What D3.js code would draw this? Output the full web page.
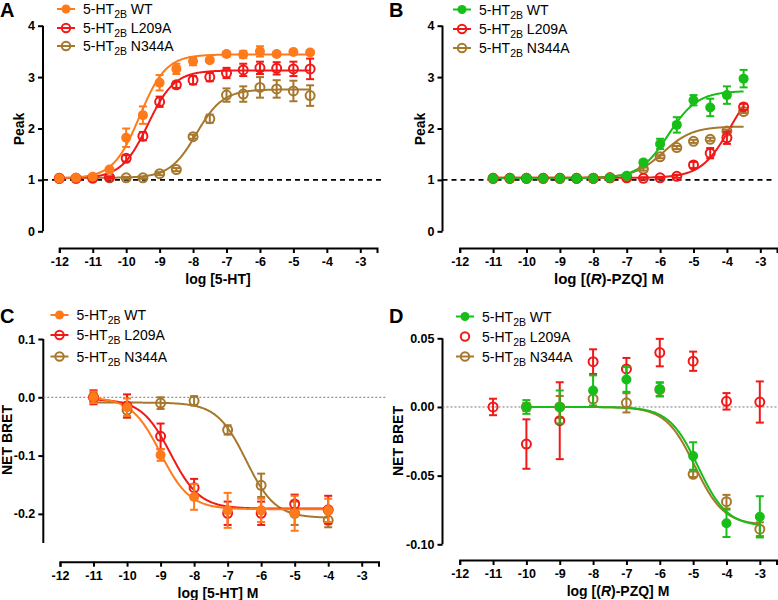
<!DOCTYPE html>
<html><head><meta charset="utf-8">
<script src="https://cdn.jsdelivr.net/npm/d3@7"></script>
<style>body{margin:0;background:#fff}svg{display:block}text{font-family:"Liberation Sans",Arial,sans-serif}</style>
</head><body><svg id="c" width="778" height="600"></svg>
<script>
// ---------- data ----------
const seriesNames = ["WT", "L209A", "N344A"];
const xTicks = [-12,-11,-10,-9,-8,-7,-6,-5,-4,-3];

// Panel A: Peak vs log[5-HT]
const xA = [-12,-11.5,-11,-10.5,-10,-9.5,-9,-8.5,-8,-7.5,-7,-6.5,-6,-5.5,-5,-4.5];
const aWT    = [1.03,1.04,1.06,1.2,1.82,2.26,2.89,3.16,3.31,3.33,3.45,3.44,3.5,3.45,3.49,3.48];
const aWTe   = [0.02,0.02,0.02,0.03,0.18,0.17,0.15,0.1,0.08,0.04,0.04,0.07,0.1,0.04,0.04,0.04];
const aL209  = [1.03,1.03,1.04,1.05,1.42,1.85,2.52,2.85,2.94,3.0,3.08,3.14,3.18,3.17,3.16,3.16];
const aL209e = [0.02,0.02,0.02,0.02,0.06,0.08,0.1,0.06,0.08,0.08,0.1,0.12,0.12,0.12,0.14,0.2];
const aN344  = [1.03,1.03,1.03,1.04,1.04,1.04,1.12,1.2,1.84,2.19,2.65,2.67,2.8,2.77,2.73,2.64];
const aN344e = [0.02,0.02,0.02,0.02,0.02,0.02,0.03,0.03,0.04,0.08,0.13,0.15,0.2,0.17,0.2,0.2];
// fit parameters [bottom, top, logEC50, hill]
const fitA = [[1.03,3.44,-9.6,1.1],[1.03,3.13,-9.35,1.1],[1.04,2.76,-7.9,1.1]];
const yTicksA = [0,1,2,3,4];

// Panel B: Peak vs log[(R)-PZQ]
const xB = [-11,-10.5,-10,-9.5,-9,-8.5,-8,-7.5,-7,-6.5,-6,-5.5,-5,-4.5,-4,-3.5];
const bWT    = [1.03,1.03,1.03,1.03,1.03,1.03,1.03,1.04,1.08,1.34,1.7,2.07,2.55,2.41,2.65,2.97];
const bWTe   = [0.02,0.02,0.02,0.02,0.02,0.02,0.02,0.02,0.03,0.05,0.1,0.15,0.1,0.17,0.17,0.17];
const bL209  = [1.03,1.03,1.03,1.03,1.03,1.03,1.03,1.04,1.04,1.03,1.04,1.07,1.29,1.52,1.82,2.42];
const bL209e = [0.02,0.02,0.02,0.02,0.02,0.02,0.02,0.02,0.02,0.02,0.02,0.03,0.06,0.1,0.12,0.06];
const bN344  = [1.03,1.03,1.03,1.03,1.03,1.03,1.03,1.04,1.06,1.21,1.45,1.63,1.75,1.79,1.95,2.33];
const bN344e = [0.02,0.02,0.02,0.02,0.02,0.02,0.02,0.02,0.02,0.03,0.03,0.03,0.03,0.03,0.03,0.03];
const fitB = [[1.03,2.73,-5.75,1.0],[1.04,3.0,-3.9,1.0],[1.04,2.04,-5.9,1.0]];

// Panel C: NET BRET vs log[5-HT]
const xC = [-11,-10,-9,-8,-7,-6,-5,-4];
const cWT    = [0.0,-0.017,-0.099,-0.171,-0.194,-0.194,-0.199,-0.194];
const cWTe   = [0.01,0.015,0.01,0.022,0.03,0.02,0.03,0.02];
const cL209  = [0.0,-0.015,-0.067,-0.155,-0.199,-0.199,-0.183,-0.193];
const cL209e = [0.012,0.02,0.022,0.015,0.02,0.02,0.016,0.024];
const cN344  = [0.0,-0.022,-0.01,-0.006,-0.056,-0.151,-0.199,-0.211];
const cN344e = [0.008,0.012,0.01,0.008,0.008,0.02,0.02,0.012];
// fit parameters [top, bottom, logIC50, hill]
const fitC = [[0.0,-0.192,-9.0,1.0],[-0.003,-0.191,-8.7,1.0],[-0.009,-0.207,-6.45,1.0]];
const yTicksC = [0.1,0.0,-0.1,-0.2];

// Panel D: NET BRET vs log[(R)-PZQ]
const xD = [-11,-10,-9,-8,-7,-6,-5,-4,-3];
const dWT    = [null,0.0,0.0,0.012,0.02,0.013,-0.0357,-0.0847,-0.08];
const dWTe   = [0,0.005,0.012,0.011,0.009,0.005,0.01,0.01,0.015];
const dL209  = [0.0,-0.027,-0.01,0.033,0.0277,0.0396,0.0333,0.0041,0.0036];
const dL209e = [0.006,0.018,0.028,0.009,0.008,0.01,0.007,0.006,0.015];
const dN344  = [null,0.0,0.0,0.0058,0.003,0.0126,-0.049,-0.069,-0.089];
const dN344e = [0,0.003,0.008,0.005,0.007,0.005,0.002,0.005,0.005];
const fitD = [[0.0,-0.087,-4.85,1.0],null,[0.0,-0.086,-4.95,1.0]];
const yTicksD = [0.05,0.0,-0.05,-0.10];

const colorsAC = ["#FF7A1A","#F21818","#A6782E"];
const colorsBD = ["#18BE18","#F21818","#A6782E"];

// ---------- drawing ----------
const svg = d3.select("#c");
const FONT = '"Liberation Sans",Arial,sans-serif';

function panel(o){
  const g = svg.append("g");
  const x = d3.scaleLinear().domain([-12,-2.5]).range(o.xr);
  const y = d3.scaleLinear().domain(o.yd).range(o.yr);
  // y axis
  const yAx = g.append("g").attr("transform",`translate(${o.yAxisX},0)`)
    .call(d3.axisLeft(y).tickValues(o.yTicks).tickFormat(o.yFmt).tickSize(5).tickPadding(3));
  yAx.select(".domain").attr("d",`M0,${y(o.yd[0])}V${y(o.yd[1])}`);
  // x axis
  const xAx = g.append("g").attr("transform",`translate(0,${o.xAxisY})`)
    .call(d3.axisBottom(x).tickValues(xTicks).tickFormat(d3.format("d")).tickSize(5).tickPadding(4));
  for (const ax of [yAx,xAx]){
    ax.selectAll(".domain,line").attr("stroke","#000").attr("stroke-width",2);
    ax.selectAll("text").attr("font-family",FONT).attr("font-weight","bold").attr("font-size",12.5).attr("fill","#000");
  }
  xAx.selectAll("text").text(d=>d3.format("d")(d).replace("−","-"));
  yAx.selectAll("text").text(d=>o.yFmt(d).replace("−","-"));
  // reference line
  g.append("line").attr("x1",o.yAxisX).attr("x2",o.refEnd).attr("y1",y(o.ref)).attr("y2",y(o.ref))
    .attr("stroke",o.refDash?"#000":"#777").attr("stroke-width",o.refDash?1.6:1)
    .attr("stroke-dasharray",o.refDash?"5,4":"2,2");
  // titles
  const xt = g.append("text").attr("x",o.xTitleX).attr("y",o.xAxisY+36).attr("text-anchor","middle")
    .attr("font-family",FONT).attr("font-weight","bold").attr("font-size",o.xTitleSize||14);
  o.xTitle(xt);
  g.append("text").attr("transform",`translate(${o.yTitleX},${o.yTitleY}) rotate(-90)`).attr("text-anchor","middle")
    .attr("font-family",FONT).attr("font-weight","bold").attr("font-size",14).text(o.yTitle);
  g.append("text").attr("x",o.letterX).attr("y",o.letterY).attr("font-family",FONT).attr("font-weight","bold")
    .attr("font-size",20).text(o.letter);
  // curves
  const line = d3.line().x(d=>x(d[0])).y(d=>y(d[1])).curve(d3.curveLinear);
  const order = [2,1,0];
  order.forEach(i=>{
    const p = o.fits[i]; if(!p) return;
    const pts = d3.range(o.curveX[0], o.curveX[1]+1e-9, 0.02).map(v=>[v, o.model(p,v)]);
    g.append("path").attr("d",line(pts)).attr("fill","none").attr("stroke",o.colors[i]).attr("stroke-width",2);
  });
  // points
  order.forEach(i=>{
    const ys = o.vals[i], es = o.errs[i], col = o.colors[i];
    o.xs.forEach((xv,j)=>{
      if (ys[j]===null) return;
      const cx = x(xv), cy = y(ys[j]);
      const e = es[j];
      if (e>0){
        const y1 = y(ys[j]+e), y2 = y(ys[j]-e);
        g.append("line").attr("x1",cx).attr("x2",cx).attr("y1",y1).attr("y2",y2).attr("stroke",col).attr("stroke-width",2);
        [y1,y2].forEach(yy=>g.append("line").attr("x1",cx-4).attr("x2",cx+4).attr("y1",yy).attr("y2",yy).attr("stroke",col).attr("stroke-width",2));
      }
      const c = g.append("circle").attr("cx",cx).attr("cy",cy);
      if (i===0) c.attr("r",5).attr("fill",col);
      else c.attr("r",4.5).attr("fill","none").attr("stroke",col).attr("stroke-width",2);
    });
  });
  // legend
  seriesNames.forEach((nm,i)=>{
    const ly = o.legY[i], col = o.colors[i];
    if (!(o.noLegLine && o.noLegLine[i]))
      g.append("line").attr("x1",o.legX-9).attr("x2",o.legX+9).attr("y1",ly).attr("y2",ly).attr("stroke",col).attr("stroke-width",2);
    const c = g.append("circle").attr("cx",o.legX).attr("cy",ly);
    if (i===0) c.attr("r",4.5).attr("fill",col);
    else c.attr("r",4.2).attr("fill","none").attr("stroke",col).attr("stroke-width",2);
    const t = g.append("text").attr("x",o.legX+17).attr("y",ly+5).attr("font-family",FONT).attr("font-size",14);
    t.append("tspan").text("5-HT");
    t.append("tspan").attr("font-size",10.5).attr("dy",4).text("2B");
    t.append("tspan").attr("dy",-4).text(" "+nm);
  });
}

const rise = (p,v)=>p[0]+(p[1]-p[0])/(1+Math.pow(10,(p[2]-v)*p[3]));
const fall = (p,v)=>p[1]+(p[0]-p[1])/(1+Math.pow(10,(v-p[2])*p[3]));
const pzqTitle = t=>{t.append("tspan").text("log [(");t.append("tspan").attr("font-style","italic").text("R");t.append("tspan").text(")-PZQ] M");};

panel({letter:"A",letterX:0,letterY:17,xr:[59.3,377],yd:[0,4],yr:[231.3,25.7],yAxisX:43,xAxisY:248,
  yTicks:yTicksA,yFmt:d3.format("d"),ref:1,refDash:true,refEnd:381,
  xTitle:t=>t.text("log [5-HT]"),xTitleX:218,yTitle:"Peak",yTitleX:24,yTitleY:129,
  xs:xA,vals:[aWT,aL209,aN344],errs:[aWTe,aL209e,aN344e],fits:fitA,model:rise,curveX:[-12,-4.5],
  colors:colorsAC,legX:66,legY:[9,28,46]});

panel({letter:"B",letterX:389,letterY:17,xr:[459.7,777],yd:[0,4],yr:[231.3,25.7],yAxisX:442.5,xAxisY:248,
  yTicks:yTicksA,yFmt:d3.format("d"),ref:1,refDash:true,refEnd:772,
  xTitle:pzqTitle,xTitleX:609,xTitleSize:15,
  yTitle:"Peak",yTitleX:425,yTitleY:129,
  xs:xB,vals:[bWT,bL209,bN344],errs:[bWTe,bL209e,bN344e],fits:fitB,model:rise,curveX:[-11,-3.5],
  colors:colorsBD,legX:462,legY:[9.5,29,48]});

panel({letter:"C",letterX:0,letterY:323,xr:[60,378.5],yd:[-0.25,0.1],yr:[543,339],yAxisX:43.3,xAxisY:561.7,
  yTicks:yTicksC,yFmt:d3.format(".1f"),ref:0,refDash:false,refEnd:386,
  xTitle:t=>t.text("log [5-HT] M"),xTitleX:218,yTitle:"NET  BRET",yTitleX:12,yTitleY:440,
  xs:xC,vals:[cWT,cL209,cN344],errs:[cWTe,cL209e,cN344e],fits:fitC,model:fall,curveX:[-11,-4],
  colors:colorsAC,legX:59.5,legY:[315,335,356.5]});

panel({letter:"D",letterX:389,letterY:323,xr:[459.7,776.5],yd:[-0.10,0.05],yr:[544.3,338.3],yAxisX:442.5,xAxisY:560,
  yTicks:yTicksD,yFmt:d3.format(".2f"),ref:0,refDash:false,refEnd:778,
  xTitle:pzqTitle,xTitleX:618,
  yTitle:"NET  BRET",yTitleX:403,yTitleY:441,
  xs:xD,vals:[dWT,dL209,dN344],errs:[dWTe,dL209e,dN344e],fits:fitD,model:fall,curveX:[-10,-3],
  colors:colorsBD,legX:465,legY:[316.5,336.5,356.5],noLegLine:[false,true,false]});
</script></body></html>
